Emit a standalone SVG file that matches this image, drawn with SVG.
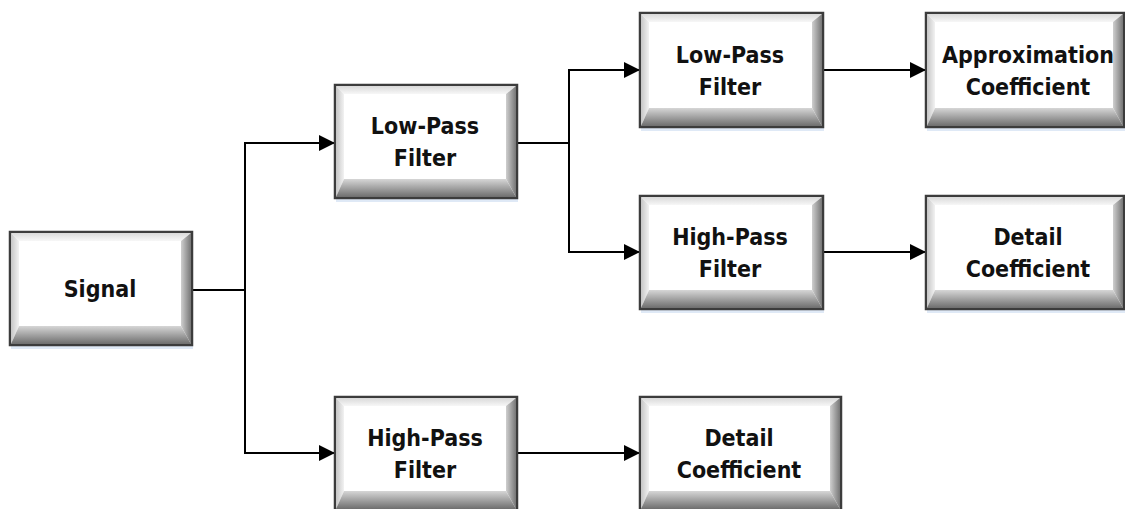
<svg xmlns="http://www.w3.org/2000/svg" width="1125" height="509" viewBox="0 0 1125 509">
  <defs>
    <style>
      .shadow { fill: #dfe9f6; }
      .frame { fill: #ffffff; stroke: #3c3c3c; stroke-width: 2.5; }
      .bt { fill: url(#gTop); }
      .bl { fill: url(#gLeft); }
      .br { fill: url(#gRight); }
      .bb { fill: url(#gBottom); }
      .face { fill: #ffffff; }
      .label { font-family: "DejaVu Sans Condensed", "DejaVu Sans", "Liberation Sans", sans-serif; font-stretch: condensed; font-weight: bold; font-size: 23px; fill: #111111; text-anchor: middle; }
      .wire { fill: none; stroke: #000000; stroke-width: 2; }
    </style>
    <linearGradient id="gTop" x1="0" y1="0" x2="0" y2="1">
      <stop offset="0" stop-color="#d9d9d9"/>
      <stop offset="1" stop-color="#f7f7f7"/>
    </linearGradient>
    <linearGradient id="gLeft" x1="0" y1="0" x2="1" y2="0">
      <stop offset="0" stop-color="#c6c6c6"/>
      <stop offset="1" stop-color="#f2f2f2"/>
    </linearGradient>
    <linearGradient id="gRight" x1="0" y1="0" x2="1" y2="0">
      <stop offset="0" stop-color="#cfcfcf"/>
      <stop offset="1" stop-color="#767676"/>
    </linearGradient>
    <linearGradient id="gBottom" x1="0" y1="0" x2="0" y2="1">
      <stop offset="0" stop-color="#d6d6d6"/>
      <stop offset="1" stop-color="#6e6e6e"/>
    </linearGradient>
    <marker id="arrow" viewBox="0 0 16 16" refX="16" refY="8" markerWidth="16" markerHeight="16" markerUnits="userSpaceOnUse" orient="auto">
      <path d="M0 0 L16 8 L0 16 Z" fill="#000000"/>
    </marker>
  </defs>

  <rect width="1125" height="509" fill="#ffffff"/>

  <!-- connectors -->
  <g id="connectors">
    <path class="wire" d="M192 290 H245 V143 H335" marker-end="url(#arrow)"/>
    <path class="wire" d="M245 290 V453 H335" marker-end="url(#arrow)"/>
    <path class="wire" d="M517 143 H569 V70 H640" marker-end="url(#arrow)"/>
    <path class="wire" d="M569 143 V252 H640" marker-end="url(#arrow)"/>
    <path class="wire" d="M823 70 H926" marker-end="url(#arrow)"/>
    <path class="wire" d="M823 252 H926" marker-end="url(#arrow)"/>
    <path class="wire" d="M517 453 H640" marker-end="url(#arrow)"/>
  </g>

  <!-- Signal: x10 y232 w182 h113 -->
  <g id="signal">
    <rect class="shadow" x="11" y="236" width="182" height="113"/>
    <rect class="frame" x="10" y="232" width="182" height="113"/>
    <polygon class="bt" points="11,233 191,233 181,241 19,241"/>
    <polygon class="bl" points="11,233 19,241 19,326 11,344"/>
    <polygon class="br" points="191,233 191,344 181,326 181,241"/>
    <polygon class="bb" points="11,344 19,326 181,326 191,344"/>
    <rect class="face" x="19" y="241" width="162" height="85"/>
    <text class="label" x="100" y="297">Signal</text>
  </g>

  <!-- Low-pass filter, level 1: x335 y85 -->
  <g id="lowpass1">
    <rect class="shadow" x="336" y="89" width="182" height="113"/>
    <rect class="frame" x="335" y="85" width="182" height="113"/>
    <polygon class="bt" points="336,86 516,86 506,94 344,94"/>
    <polygon class="bl" points="336,86 344,94 344,179 336,197"/>
    <polygon class="br" points="516,86 516,197 506,179 506,94"/>
    <polygon class="bb" points="336,197 344,179 506,179 516,197"/>
    <rect class="face" x="344" y="94" width="162" height="85"/>
    <text class="label" x="425" y="134">Low-Pass</text>
    <text class="label" x="425" y="166">Filter</text>
  </g>

  <!-- High-pass filter, level 1: x335 y397 -->
  <g id="highpass1">
    <rect class="shadow" x="336" y="401" width="182" height="113"/>
    <rect class="frame" x="335" y="397" width="182" height="113"/>
    <polygon class="bt" points="336,398 516,398 506,406 344,406"/>
    <polygon class="bl" points="336,398 344,406 344,491 336,509"/>
    <polygon class="br" points="516,398 516,509 506,491 506,406"/>
    <polygon class="bb" points="336,509 344,491 506,491 516,509"/>
    <rect class="face" x="344" y="406" width="162" height="85"/>
    <text class="label" x="425" y="446">High-Pass</text>
    <text class="label" x="425" y="478">Filter</text>
  </g>

  <!-- Low-pass filter, level 2: x640 y13 -->
  <g id="lowpass2">
    <rect class="shadow" x="641" y="17" width="183" height="114"/>
    <rect class="frame" x="640" y="13" width="183" height="114"/>
    <polygon class="bt" points="641,14 822,14 812,22 649,22"/>
    <polygon class="bl" points="641,14 649,22 649,108 641,126"/>
    <polygon class="br" points="822,14 822,126 812,108 812,22"/>
    <polygon class="bb" points="641,126 649,108 812,108 822,126"/>
    <rect class="face" x="649" y="22" width="163" height="86"/>
    <text class="label" x="730" y="63">Low-Pass</text>
    <text class="label" x="730" y="95">Filter</text>
  </g>

  <!-- High-pass filter, level 2: x640 y196 -->
  <g id="highpass2">
    <rect class="shadow" x="641" y="200" width="183" height="113"/>
    <rect class="frame" x="640" y="196" width="183" height="113"/>
    <polygon class="bt" points="641,197 822,197 812,205 649,205"/>
    <polygon class="bl" points="641,197 649,205 649,290 641,308"/>
    <polygon class="br" points="822,197 822,308 812,290 812,205"/>
    <polygon class="bb" points="641,308 649,290 812,290 822,308"/>
    <rect class="face" x="649" y="205" width="163" height="85"/>
    <text class="label" x="730" y="245">High-Pass</text>
    <text class="label" x="730" y="277">Filter</text>
  </g>

  <!-- Approximation coefficient: x926 y13 -->
  <g id="approx">
    <rect class="shadow" x="927" y="17" width="198" height="114"/>
    <rect class="frame" x="926" y="13" width="198" height="114"/>
    <polygon class="bt" points="927,14 1123,14 1113,22 935,22"/>
    <polygon class="bl" points="927,14 935,22 935,108 927,126"/>
    <polygon class="br" points="1123,14 1123,126 1113,108 1113,22"/>
    <polygon class="bb" points="927,126 935,108 1113,108 1123,126"/>
    <rect class="face" x="935" y="22" width="178" height="86"/>
    <text class="label" x="1028" y="63">Approximation</text>
    <text class="label" x="1028" y="95">Coefficient</text>
  </g>

  <!-- Detail coefficient, level 2: x926 y196 -->
  <g id="detail2">
    <rect class="shadow" x="927" y="200" width="198" height="113"/>
    <rect class="frame" x="926" y="196" width="198" height="113"/>
    <polygon class="bt" points="927,197 1123,197 1113,205 935,205"/>
    <polygon class="bl" points="927,197 935,205 935,290 927,308"/>
    <polygon class="br" points="1123,197 1123,308 1113,290 1113,205"/>
    <polygon class="bb" points="927,308 935,290 1113,290 1123,308"/>
    <rect class="face" x="935" y="205" width="178" height="85"/>
    <text class="label" x="1028" y="245">Detail</text>
    <text class="label" x="1028" y="277">Coefficient</text>
  </g>

  <!-- Detail coefficient, level 1: x640 y397 -->
  <g id="detail1">
    <rect class="shadow" x="641" y="401" width="201" height="113"/>
    <rect class="frame" x="640" y="397" width="201" height="113"/>
    <polygon class="bt" points="641,398 840,398 830,406 649,406"/>
    <polygon class="bl" points="641,398 649,406 649,491 641,509"/>
    <polygon class="br" points="840,398 840,509 830,491 830,406"/>
    <polygon class="bb" points="641,509 649,491 830,491 840,509"/>
    <rect class="face" x="649" y="406" width="181" height="85"/>
    <text class="label" x="739" y="446">Detail</text>
    <text class="label" x="739" y="478">Coefficient</text>
  </g>
</svg>
